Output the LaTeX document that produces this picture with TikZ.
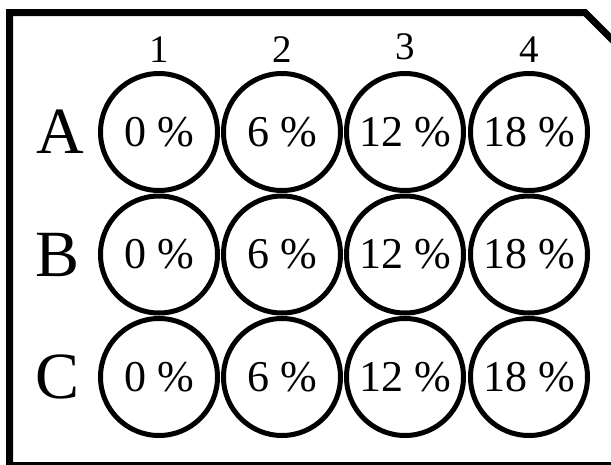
\documentclass[tikz,border=0pt]{standalone}
\usepackage{fontspec}
\setmainfont{Liberation Serif}
\begin{document}
\begin{tikzpicture}[x=1pt,y=-1pt,
  well/.style={circle,draw,line width=5pt,minimum size=117pt,inner sep=0pt,
    font=\fontsize{44}{48}\selectfont},
  collabel/.style={anchor=base,inner sep=0pt,font=\fontsize{39}{43}\selectfont},
  rowlabel/.style={anchor=base,inner sep=0pt,font=\fontsize{66}{70}\selectfont},
  plate/.style={line width=7pt,line join=miter}]
\useasboundingbox (0,0) rectangle (611,464);
\clip (0,0) rectangle (611,464);
\fill[white] (0,0) rectangle (611,464);
\draw[plate] (9.5,470) -- (9.5,12.5) -- (585,12.5) -- (640,67.5) -- (640,465.5) -- (9.5,465.5) -- cycle;
\foreach \c/\x/\yb in {1/159/62.5,2/282/62.5,3/405/59,4/529/62}
  \node[collabel] (col\c) at (\x,\yb) {\c};
\foreach \r/\y/\lx in {A/132/60,B/254.5/57.5,C/377/58}{
  \node[rowlabel] (row\r) at (\lx,\y+21.5) {\r};
  \foreach \c/\x/\p in {1/159/0,2/282/6,3/405/12,4/529/18}
    \node[well] (w\r\c) at (\x,\y) {\p{} \%};
}
\end{tikzpicture}
\end{document}
